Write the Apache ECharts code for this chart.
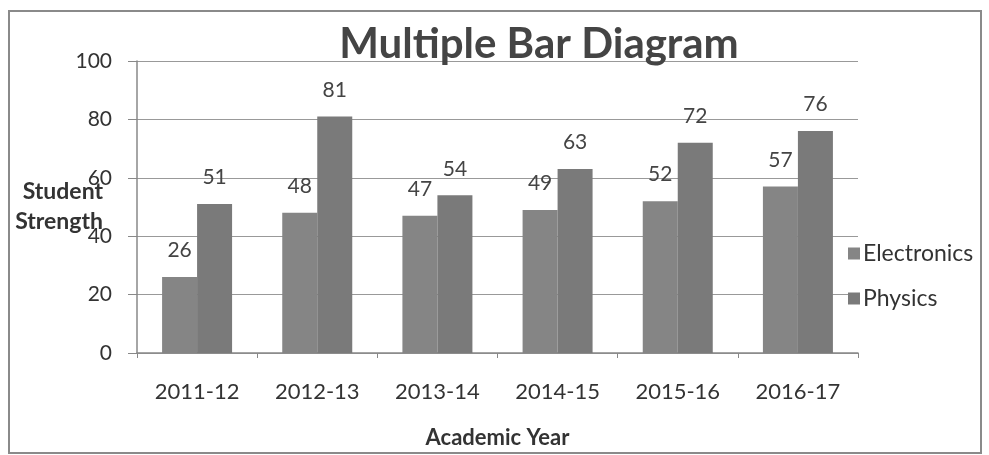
<!DOCTYPE html>
<html lang="en">

<head>
    <meta charset="UTF-8">
    <title>Multiple Bar Diagram</title>
    <script src="https://cdn.jsdelivr.net/npm/echarts@6/dist/echarts.min.js"></script>
    <style>
        body {
            margin: 0;
            background: #fff;
        }

        #app {
            width: 989px;
            height: 455px;
        }

        #frame {
            position: absolute;
            left: 8px;
            top: 10px;
            width: 970px;
            height: 440px;
            border: 2px solid #8a8a8a;
            pointer-events: none;
        }
    </style>
</head>

<body>
    <div id="app"></div>
    <div id="frame"></div>
    <script>
        let years = ['2011-12', '2012-13', '2013-14', '2014-15', '2015-16', '2016-17']
        let electronics = [26, 48, 47, 49, 52, 57]
        let physics = [51, 81, 54, 63, 72, 76]
        let yTicks = { min: 0, max: 100, interval: 20 }

        let font = 'Lato, "Open Sans", sans-serif'
        let mCharts = echarts.init(document.getElementById('app'))
        let barLabel = {
            show: true,
            position: 'top',
            distance: 16,
            color: '#444',
            fontSize: 21,
            fontFamily: font
        }
        let option = {
            animation: false,
            title: {
                text: 'Multiple Bar Diagram',
                left: 534,
                top: 18,
                textAlign: 'center',
                textStyle: {
                    fontSize: 42,
                    fontWeight: 'bold',
                    color: '#444',
                    fontFamily: font
                }
            },
            legend: {
                orient: 'vertical',
                left: 843,
                top: 237,
                itemGap: 22,
                itemWidth: 12,
                itemHeight: 12,
                icon: 'rect',
                textStyle: { fontSize: 23, color: '#333', fontFamily: font, padding: [0, 0, 0, -2] }
            },
            grid: {
                left: 137,
                right: 131,
                top: 61,
                bottom: 102,
                outerBoundsMode: 'none',
                containLabel: false
            },
            xAxis: {
                type: 'category',
                data: years,
                name: 'Academic Year',
                nameLocation: 'middle',
                nameGap: 74,
                nameTextStyle: { fontSize: 22, fontWeight: 'bold', color: '#333', fontFamily: font },
                axisLine: { lineStyle: { color: '#888', width: 1.5 } },
                axisTick: { show: true, length: 5, lineStyle: { color: '#888' } },
                axisLabel: { fontSize: 22, color: '#333', margin: 28, fontFamily: font }
            },
            yAxis: {
                type: 'value',
                min: yTicks.min,
                max: yTicks.max,
                interval: yTicks.interval,
                name: 'Student\nStrength',
                nameLocation: 'middle',
                nameRotate: 0,
                nameGap: 34,
                nameMoveOverlap: false,
                nameTextStyle: {
                    fontSize: 23,
                    fontWeight: 'bold',
                    color: '#333',
                    fontFamily: font,
                    lineHeight: 30,
                    align: 'right'
                },
                axisLine: { show: true, lineStyle: { color: '#888', width: 1.5 } },
                axisTick: { show: true, inside: false, length: 9, lineStyle: { color: '#888' } },
                axisLabel: { fontSize: 21, color: '#333', margin: 25, fontFamily: font },
                splitLine: { lineStyle: { color: '#999', width: 1.2 } }
            },
            series: [
                {
                    name: 'Electronics',
                    type: 'bar',
                    data: electronics,
                    barWidth: 35,
                    barGap: '0%',
                    itemStyle: { color: '#858585' },
                    label: barLabel
                },
                {
                    name: 'Physics',
                    type: 'bar',
                    data: physics,
                    barWidth: 35,
                    itemStyle: { color: '#7a7a7a' },
                    label: barLabel
                }
            ]
        }
        mCharts.setOption(option)
    </script>
</body>

</html>
